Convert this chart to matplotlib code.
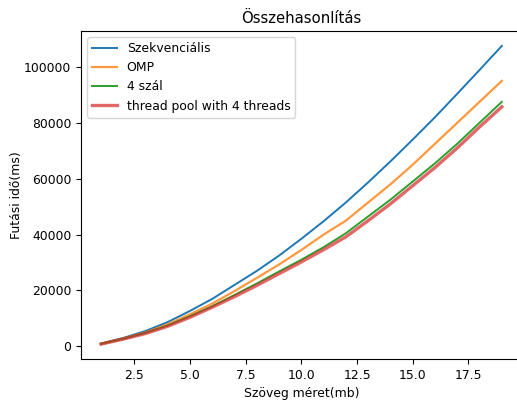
import matplotlib
matplotlib.use("Agg")
import matplotlib.pyplot as plt

# szöveg méret (mb)
meret = list(range(1, 20))

szekvencialis = [1000, 3000, 5500, 8700, 12700, 17000, 22000, 27000, 32500, 38500,
                 44800, 51500, 58700, 66200, 74000, 82000, 90400, 98900, 107500]
omp = [900, 2800, 5000, 7900, 11500, 15300, 19800, 24500, 29300, 34500,
       40000, 45000, 51500, 58000, 65000, 72500, 80000, 87500, 95000]
negy_szal = [900, 2700, 4800, 7500, 10800, 14400, 18400, 22500, 26800, 31000,
             35500, 40500, 46500, 52500, 59000, 65500, 72500, 80000, 87500]
thread_pool = [800, 2600, 4600, 7200, 10400, 14000, 17800, 21800, 26000, 30200,
               34600, 39200, 45000, 51000, 57500, 64000, 71000, 78500, 85700]

x_ticks = [2.5, 5.0, 7.5, 10.0, 12.5, 15.0, 17.5]

plt.rcParams['font.size'] = 8.9

fig = plt.figure(figsize=(5.17, 4.01), dpi=100)
ax = fig.add_axes([81/517, 42/401, 450/517, 328/401])

ax.plot(meret, szekvencialis, color='#1f77b4', lw=1.4, label='Szekvenciális')
ax.plot(meret, omp, color='#ff7f0e', lw=1.6, alpha=0.8, label='OMP')
ax.plot(meret, negy_szal, color='#2ca02c', lw=1.4, label='4 szál')
ax.plot(meret, thread_pool, color='#d62728', lw=2.4, alpha=0.7, label='thread pool with 4 threads')

# right edge of the axes falls outside the picture, as in the cropped original
ax.set_xlim(0.1, 20.31)
ax.set_xticks(x_ticks)

ax.set_title('Összehasonlítás', fontsize=10.7, x=220.5/450)
ax.set_xlabel('Szöveg méret(mb)', x=220.5/450)
ax.set_ylabel('Futási idő(ms)', labelpad=1)
ax.legend(loc='upper left')

fig.savefig('out.png', dpi=100)
